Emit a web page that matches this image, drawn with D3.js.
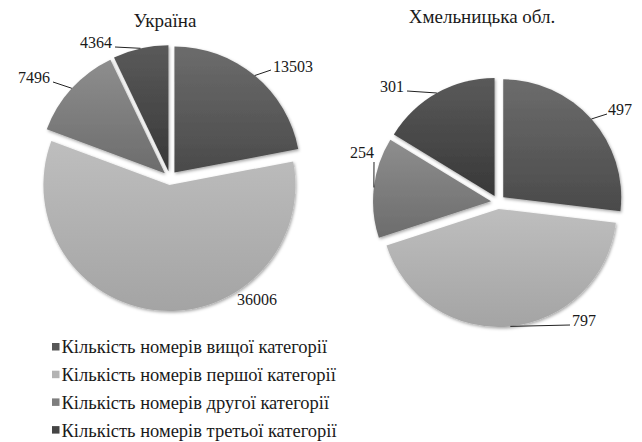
<!DOCTYPE html>
<html>
<head>
<meta charset="utf-8">
<script src="https://cdn.jsdelivr.net/npm/d3@7"></script>
<style>
  body { margin: 0; background: #fff; }
</style>
</head>
<body>
<svg id="chart" width="642" height="442"></svg>
<script>
// data
const categories = [
    "Кількість номерів вищої категорії",
    "Кількість номерів першої категорії",
    "Кількість номерів другої категорії",
    "Кількість номерів третьої категорії"
];
const ukraineValues = [13503, 36006, 7496, 4364];
const khmelValues = [497, 797, 254, 301];
const chartTitles = ["Україна", "Хмельницька обл."];

// layout: leader end [x, y] (null = no leader) and label position [x, y], relative to pie centre
const ukraineLeaders = [[101, -108], null, [-117, -96], [-55, -131]];
const ukraineText = [[103, -106], [67, 127], [-120, -95], [-58, -130]];
const khmelLeaders = [[109, -88], [72, 123], [-124, -40], [-91, -111]];
const khmelText = [[110, -87], [74, 124], [-124, -44], [-94, -110]];

// gradients per category (top, bottom)
const sliceColors = [["#6c6c6c", "#4a4a4a"], ["#bebebe", "#a4a4a4"], ["#8e8e8e", "#6c6c6c"], ["#5a5a5a", "#383838"]];
const legendColors = ["#575757", "#b3b3b3", "#7e7e7e", "#454545"];
const font = "Liberation Serif";

const svg = d3.select("#chart");
const defs = svg.append("defs");

sliceColors.forEach((c, i) => {
    const g = defs.append("linearGradient")
        .attr("id", "grad" + i)
        .attr("x1", "0%").attr("x2", "0%")
        .attr("y1", "0%").attr("y2", "100%");
    g.append("stop").attr("offset", "0%").attr("stop-color", c[0]);
    g.append("stop").attr("offset", "100%").attr("stop-color", c[1]);
});

const shadow = defs.append("filter")
    .attr("id", "shadow")
    .attr("x", "-20%").attr("y", "-20%")
    .attr("width", "140%").attr("height", "140%");
shadow.append("feDropShadow")
    .attr("dx", 1).attr("dy", 1.5)
    .attr("stdDeviation", 1.8)
    .attr("flood-color", "#000")
    .attr("flood-opacity", 0.35);

const pie = d3.pie().sort(null).value(d => d);

function drawPie(values, leaders, textPos, cx, cy, radius, explode, title, titleX, titleY, titleSize) {
    const g = svg.append("g").attr("transform", `translate(${cx},${cy})`);
    const arc = d3.arc().innerRadius(0).outerRadius(radius);
    const arcs = pie(values);

    const mid = d => (d.startAngle + d.endAngle) / 2;
    const offset = d => [Math.sin(mid(d)) * explode, -Math.cos(mid(d)) * explode];

    g.selectAll(".slice")
        .data(arcs)
        .enter().append("path")
        .attr("class", "slice")
        .attr("d", arc)
        .attr("transform", d => `translate(${offset(d)[0]},${offset(d)[1]})`)
        .attr("fill", (d, i) => `url(#grad${i})`)
        .attr("filter", "url(#shadow)");

    // leader lines from the slice edge at its middle angle
    g.selectAll(".leader")
        .data(arcs.filter(d => leaders[d.index]))
        .enter().append("line")
        .attr("class", "leader")
        .attr("x1", d => offset(d)[0] + Math.sin(mid(d)) * radius)
        .attr("y1", d => offset(d)[1] - Math.cos(mid(d)) * radius)
        .attr("x2", d => leaders[d.index][0])
        .attr("y2", d => leaders[d.index][1])
        .attr("stroke", "#222")
        .attr("stroke-width", 1);

    g.selectAll(".value")
        .data(arcs)
        .enter().append("text")
        .attr("class", "value")
        .attr("x", (d, i) => textPos[i][0])
        .attr("y", (d, i) => textPos[i][1])
        .attr("text-anchor", (d, i) => textPos[i][0] > 0 ? "start" : "end")
        .attr("font-family", font)
        .attr("font-size", 16)
        .attr("fill", "#1a1a1a")
        .text(d => d.data);

    svg.append("text")
        .attr("x", titleX)
        .attr("y", titleY)
        .attr("text-anchor", "middle")
        .attr("font-family", font)
        .attr("font-size", titleSize)
        .attr("fill", "#1a1a1a")
        .text(title);
}

drawPie(ukraineValues, ukraineLeaders, ukraineText, 170, 178, 126, 7, chartTitles[0], 165, 27, 19);
drawPie(khmelValues, khmelLeaders, khmelText, 498, 202, 118, 7, chartTitles[1], 482, 23, 19);

// legend
const legend = svg.append("g").attr("transform", "translate(52,347)");
const item = legend.selectAll(".item")
    .data(categories)
    .enter().append("g")
    .attr("class", "item")
    .attr("transform", (d, i) => `translate(0,${i * 27.7})`);
item.append("rect")
    .attr("x", 0).attr("y", -4)
    .attr("width", 7.5).attr("height", 7.5)
    .attr("fill", (d, i) => legendColors[i]);
item.append("text")
    .attr("x", 9.5)
    .attr("y", 0)
    .attr("dy", "0.35em")
    .attr("font-family", font)
    .attr("font-size", 18.5)
    .attr("fill", "#1a1a1a")
    .text(d => d);
</script>
</body>
</html>
